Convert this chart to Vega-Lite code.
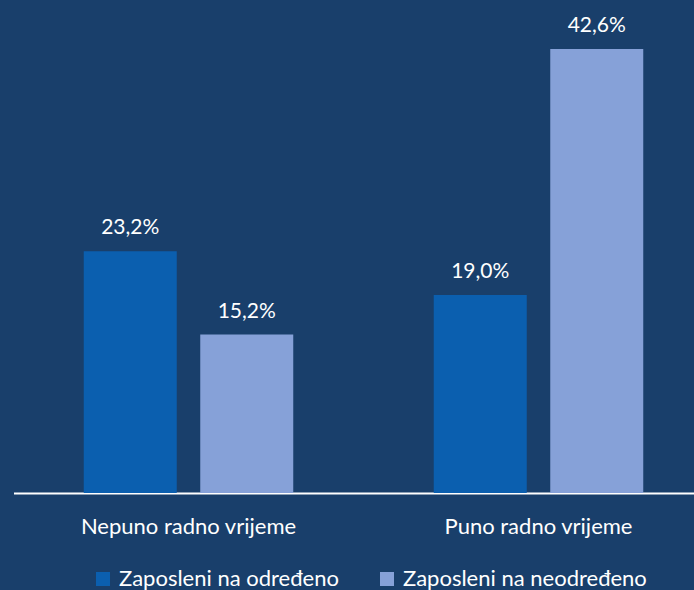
{
  "$schema": "https://vega.github.io/schema/vega-lite/v6.json",
  "width": 682,
  "height": 469,
  "autosize": {"type": "none"},
  "padding": {"left": 12, "top": 24, "right": 0, "bottom": 97},
  "background": "#193f6b",
  "config": {"view": {"stroke": null}, "font": "Lato"},
  "data": {"values": [
    {"group": "Nepuno radno vrijeme", "type": "Zaposleni na određeno", "value": 23.2, "label": "23,2%"},
    {"group": "Nepuno radno vrijeme", "type": "Zaposleni na neodređeno", "value": 15.2, "label": "15,2%"},
    {"group": "Puno radno vrijeme", "type": "Zaposleni na određeno", "value": 19.0, "label": "19,0%"},
    {"group": "Puno radno vrijeme", "type": "Zaposleni na neodređeno", "value": 42.6, "label": "42,6%"}
  ]},
  "encoding": {
    "x": {"field": "group", "type": "nominal", "sort": null,
      "scale": {"range": [1.5, 701.5], "paddingInner": 0, "paddingOuter": 0},
      "axis": {"title": null, "labelAngle": 0, "labelColor": "white", "labelFontSize": 22, "labelLimit": 0, "labelPadding": 23, "ticks": false, "domainColor": "white", "domainWidth": 2, "grid": false}},
    "xOffset": {"field": "type", "type": "nominal", "sort": ["Zaposleni na određeno", "Zaposleni na neodređeno"],
      "scale": {"paddingInner": 0.2017, "paddingOuter": 0.603}},
    "y": {"field": "value", "type": "quantitative", "scale": {"domain": [0, 45]}, "axis": null}
  },
  "layer": [
    {"mark": {"type": "bar"},
     "encoding": {"color": {"field": "type", "type": "nominal", "sort": ["Zaposleni na određeno", "Zaposleni na neodređeno"],
       "scale": {"domain": ["Zaposleni na određeno", "Zaposleni na neodređeno"], "range": ["#0b5faf", "#86a1d8"]},
       "legend": {"title": null, "orient": "none", "legendX": 80, "legendY": 544, "direction": "horizontal", "symbolType": "square", "symbolSize": 196, "symbolStrokeWidth": 0, "labelColor": "white", "labelFontSize": 22, "labelLimit": 0, "columnPadding": 37, "labelOffset": 5}}}},
    {"mark": {"type": "text", "baseline": "bottom", "dy": -13, "color": "white", "fontSize": 21},
     "encoding": {"text": {"field": "label"}}}
  ]
}
